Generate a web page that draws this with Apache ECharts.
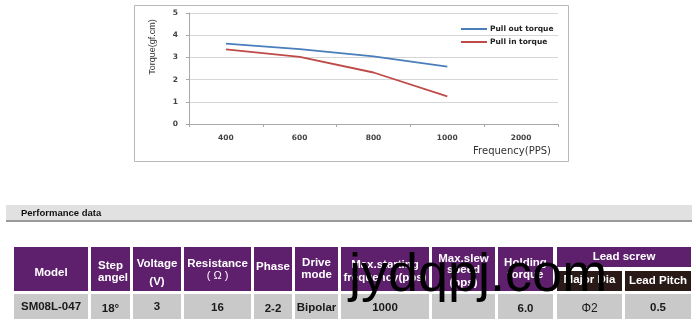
<!DOCTYPE html>
<html>
<head>
<meta charset="utf-8">
<script src="https://cdn.jsdelivr.net/npm/echarts@6/dist/echarts.min.js"></script>
<style>
  html, body { margin: 0; padding: 0; background: #fff; }
  #chart { width: 696px; height: 325px; }
</style>
</head>
<body>
<div id="chart"></div>
<script>
// Torque curve data
const categories = ['400', '600', '800', '1000', '2000'];
const pullOutTorque = [3.62, 3.37, 3.05, 2.58, null];
const pullInTorque = [3.36, 3.02, 2.32, 1.24, null];
const seriesNames = ['Pull out torque', 'Pull in torque'];

// Performance table contents
const headerTexts = [
  ['Model'],
  ['Step', 'angel'],
  ['Voltage', '(V)'],
  ['Resistance', '( Ω )'],
  ['Phase'],
  ['Drive', 'mode'],
  ['Max.starting', 'frequency(pps)'],
  ['Max.slew', 'speed', '(pps)'],
  ['Holding', 'torque'],
  ['Major Dia'],
  ['Lead Pitch']
];
const groupHeader = 'Lead screw';
const rowValues = ['SM08L-047', '18°', '3', '16', '2-2', 'Bipolar', '1000', '', '6.0', 'Φ2', '0.5'];
const sectionTitle = 'Performance data';
const siteMark = 'jydqpj.com';

// Table layout (pixel geometry)
const colEdges = [[14, 88], [91, 130], [133, 181], [184, 251], [254, 292], [295, 338],
                  [341, 429], [432, 495], [498, 553], [557, 622], [625, 691]];
const headerLineY = [[273], [266, 278], [264, 282], [264, 276], [267], [263, 275],
                     [265, 278], [259, 270, 283], [263, 275], [280], [281]];
const valueY = [307, 309, 307, 308, 309, 308, 308, 308, 309, 309, 308];

const PURPLE = '#5e1f6d';
const DARK = '#2a1a17';
const GREY = '#c9c9c9';
const HEAD_FONT = 'bold 11.5px "Liberation Sans", Arial, sans-serif';

const graphics = [];

// chart frame
graphics.push({
  type: 'rect', z: 0, silent: true,
  shape: { x: 134.5, y: 5.5, width: 434, height: 156 },
  style: { fill: 'none', stroke: '#b8b8b8', lineWidth: 1 }
});
// axis titles
graphics.push({
  type: 'text', z: 5, x: 153, y: 47, rotation: Math.PI / 2,
  style: { text: 'Torque(gf.cm)', fill: '#333', align: 'center', verticalAlign: 'middle',
           font: '9px "Liberation Sans Narrow", "Arial Narrow", "Liberation Sans", sans-serif' }
});
graphics.push({
  type: 'text', z: 5, x: 512, y: 151,
  style: { text: 'Frequency(PPS)', fill: '#333', align: 'center', verticalAlign: 'middle',
           font: '10px "DejaVu Sans", sans-serif' }
});

// section bar
graphics.push({
  type: 'rect', z: 0, silent: true,
  shape: { x: 6, y: 205, width: 686, height: 16 },
  style: { fill: '#e1e1e1' }
});
graphics.push({
  type: 'rect', z: 0, silent: true,
  shape: { x: 6, y: 220, width: 686, height: 2 },
  style: { fill: '#9a9a9a' }
});
graphics.push({
  type: 'text', z: 2, x: 21, y: 213,
  style: { text: sectionTitle, fill: '#111', align: 'left', verticalAlign: 'middle',
           font: 'bold 9.5px "Liberation Sans", Arial, sans-serif' }
});

// table cells
colEdges.forEach(function (e, i) {
  const w = e[1] - e[0];
  const isSub = i >= 9;
  graphics.push({
    type: 'rect', z: 1, silent: true,
    shape: isSub ? { x: e[0], y: 271, width: w, height: 20 } : { x: e[0], y: 247, width: w, height: 44 },
    style: { fill: isSub ? DARK : PURPLE }
  });
  graphics.push({
    type: 'rect', z: 1, silent: true,
    shape: { x: e[0], y: 294, width: w, height: 25 },
    style: { fill: GREY }
  });
  const leftAlign = i === 1;
  headerTexts[i].forEach(function (line, k) {
    graphics.push({
      type: 'text', z: 2,
      x: leftAlign ? e[0] + 7 : (e[0] + e[1]) / 2,
      y: headerLineY[i][k],
      style: { text: line, fill: '#fff', align: leftAlign ? 'left' : 'center', verticalAlign: 'middle',
               font: line.indexOf('Ω') >= 0 ? '11px "Liberation Sans", Arial, sans-serif' : HEAD_FONT }
    });
  });
  if (rowValues[i] !== '') {
    graphics.push({
      type: 'text', z: 2, x: (e[0] + e[1]) / 2, y: valueY[i],
      style: { text: rowValues[i], fill: '#1a1a1a', align: 'center', verticalAlign: 'middle',
               font: rowValues[i] === 'Φ2' ? '12px "Liberation Sans", Arial, sans-serif' : HEAD_FONT }
    });
  }
});
// lead screw group header
graphics.push({
  type: 'rect', z: 1, silent: true,
  shape: { x: 557, y: 247, width: 134, height: 20 },
  style: { fill: PURPLE }
});
graphics.push({
  type: 'text', z: 2, x: 624, y: 257,
  style: { text: groupHeader, fill: '#fff', align: 'center', verticalAlign: 'middle', font: HEAD_FONT }
});

// site mark over the table
graphics.push({
  type: 'text', z: 10, x: 349, y: 276,
  style: { text: siteMark, fill: '#000', align: 'left', verticalAlign: 'middle',
           font: '54px "Liberation Sans", Arial, sans-serif' }
});

const chart = echarts.init(document.getElementById('chart'), null, { renderer: 'canvas' });
chart.setOption({
  animation: false,
  backgroundColor: '#fff',
  grid: { left: 189, top: 13, width: 369, height: 111, containLabel: false },
  legend: {
    orient: 'vertical', left: 456, top: 20, itemGap: 5,
    itemWidth: 26, itemHeight: 2, icon: 'rect',
    textStyle: { fontSize: 7.5, fontWeight: 'bold', color: '#222', fontFamily: 'DejaVu Sans', padding: [0, 0, 0, -2] },
    data: seriesNames
  },
  xAxis: {
    type: 'category', data: categories, boundaryGap: true,
    axisLine: { lineStyle: { color: '#a8a8a8', width: 1 } },
    axisTick: { show: true, length: 3, lineStyle: { color: '#a8a8a8' } },
    axisLabel: { margin: 10, fontSize: 7.5, fontWeight: 'bold', color: '#444', fontFamily: 'DejaVu Sans' },
    splitLine: { show: false }
  },
  yAxis: {
    type: 'value', min: 0, max: 5, interval: 1,
    axisLine: { show: true, lineStyle: { color: '#a8a8a8', width: 1 } },
    axisTick: { show: true, length: 3, lineStyle: { color: '#a8a8a8' } },
    axisLabel: { margin: 11, fontSize: 7.5, fontWeight: 'bold', color: '#444', fontFamily: 'DejaVu Sans' },
    splitLine: { show: true, lineStyle: { color: '#d6d6d6', width: 1 } }
  },
  series: [
    { name: seriesNames[0], type: 'line', data: pullOutTorque, symbol: 'none',
      lineStyle: { color: '#4a7ebb', width: 1.8 }, itemStyle: { color: '#4a7ebb' } },
    { name: seriesNames[1], type: 'line', data: pullInTorque, symbol: 'none',
      lineStyle: { color: '#be4b48', width: 1.8 }, itemStyle: { color: '#be4b48' } }
  ],
  graphic: graphics
});
</script>
</body>
</html>
